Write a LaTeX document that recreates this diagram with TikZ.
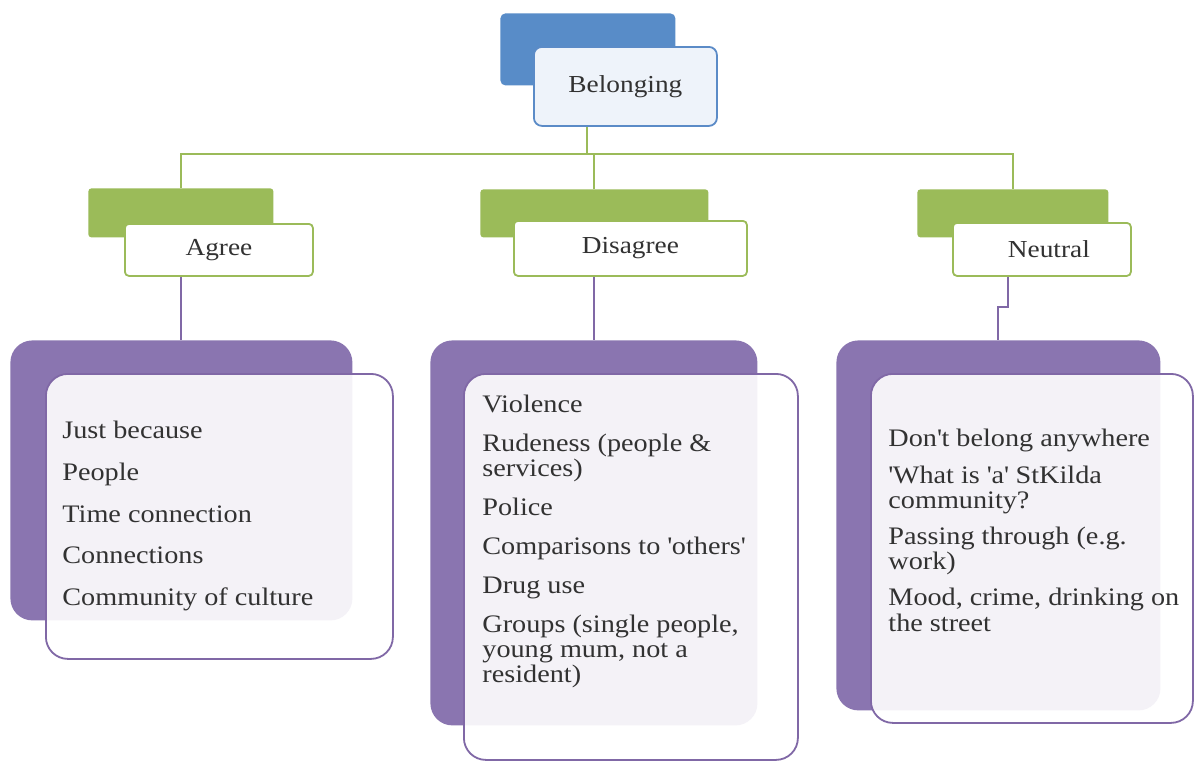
\documentclass[tikz,border=0pt]{standalone}
\usepackage{fontspec}
\setmainfont{Liberation Serif}[FakeStretch=1.12]
\definecolor{blueB}{RGB}{88,140,200}
\definecolor{blueF}{RGB}{238,243,250}
\definecolor{blueL}{RGB}{91,139,199}
\definecolor{greenB}{RGB}{155,187,89}
\definecolor{purpleB}{RGB}{138,117,176}
\definecolor{purpleL}{RGB}{128,104,166}
\definecolor{txt}{RGB}{50,50,50}
\begin{document}
\begin{tikzpicture}[x=0.5pt,y=-0.5pt,
  every node/.style={text=txt, font=\fontsize{12.2}{12.5}\selectfont},
  blueback/.style={fill=blueB, rounded corners=2.5pt, anchor=north west, inner sep=0pt},
  bluefront/.style={fill=blueF, draw=blueL, line width=0.9pt, rounded corners=4pt, anchor=north west, inner sep=0pt},
  greenback/.style={fill=greenB, rounded corners=1.5pt, anchor=north west, inner sep=0pt},
  greenfront/.style={fill=white, draw=greenB, line width=0.9pt, rounded corners=2pt, anchor=north west, inner sep=0pt},
  purpleback/.style={fill=purpleB, rounded corners=11pt, anchor=north west, inner sep=0pt},
  purplefront/.style={fill=white, fill opacity=0.91, draw=purpleL, draw opacity=1, line width=0.9pt, rounded corners=11pt, anchor=north west, inner sep=0pt},
  gline/.style={draw=greenB, line width=1pt},
  pline/.style={draw=purpleL, line width=1pt},
  itemtext/.style={anchor=north west, align=left, inner sep=0pt, font=\fontsize{12.6}{12.6}\selectfont}
]
\useasboundingbox (0,0) rectangle (1194,762);
\fill[white] (0,0) rectangle (1194,762);

% top
\node[blueback, minimum width=87.5pt, minimum height=36pt] (belb) at (500,13) {};
\node[bluefront, minimum width=91.5pt, minimum height=39.5pt] (belf) at (533,46) {Belonging};

% second level
\node[greenback, minimum width=92.5pt, minimum height=24.5pt] (agb) at (88,188) {};
\node[greenfront, minimum width=94pt, minimum height=26pt] (agf) at (124,223) {Agree};
\node[greenback, minimum width=114pt, minimum height=24pt] (dgb) at (480,189) {};
\node[greenfront, minimum width=116.5pt, minimum height=27.5pt] (dgf) at (513,220) {Disagree};
\node[greenback, minimum width=95.5pt, minimum height=24pt] (ngb) at (917,189) {};
\node[greenfront, minimum width=89pt, minimum height=26.5pt] (ngf) at (952,222) {\hspace*{7pt}Neutral};

% connectors green
\coordinate (j1) at (587,154);
\draw[gline] (belf.south -| j1) -- (j1);
\draw[gline] (agb.north) -- (agb.north |- j1) -- (ngb.north |- j1) -- (ngb.north);
\draw[gline] (dgb.north |- j1) -- (dgb.north);

% purple boxes
\node[purpleback, minimum width=171pt, minimum height=140pt] (apb) at (10,340) {};
\node[purplefront, minimum width=173.5pt, minimum height=142.5pt] (apf) at (45,373) {};
\node[purpleback, minimum width=163.5pt, minimum height=192.5pt] (dpb) at (430,340) {};
\node[purplefront, minimum width=167pt, minimum height=193pt] (dpf) at (463,373) {};
\node[purpleback, minimum width=162pt, minimum height=185pt] (npb) at (836,340) {};
\node[purplefront, minimum width=161pt, minimum height=174.5pt] (npf) at (870,373) {};

% connectors purple
\draw[pline] (apb.north |- agf.south) -- (apb.north);
\draw[pline] (dpb.north |- dgf.south) -- (dpb.north);
\coordinate (nj) at (1008,307);
\draw[pline] (ngf.south -| nj) -- (nj) -- (npb.north |- nj) -- (npb.north);

% texts
\node[itemtext] (atext) at (62,421) {Just because\\[8.2pt]People\\[8.2pt]Time connection\\[8.2pt]Connections\\[8.2pt]Community of culture};
\node[itemtext] (dtext) at (482,395) {Violence\\[6.8pt]Rudeness (people \&\\services)\\[6.8pt]Police\\[6.8pt]Comparisons to \textquotesingle others\textquotesingle\\[6.8pt]Drug use\\[6.8pt]Groups (single people,\\young mum, not a\\resident)};
\node[itemtext] (ntext) at (888,429) {Don\textquotesingle t belong anywhere\\[5.5pt]\textquotesingle What is \textquotesingle a\textquotesingle{} StKilda\\community?\\[5.5pt]Passing through (e.g.\\work)\\[5.5pt]Mood, crime, drinking on\\the street};
\end{tikzpicture}
\end{document}
